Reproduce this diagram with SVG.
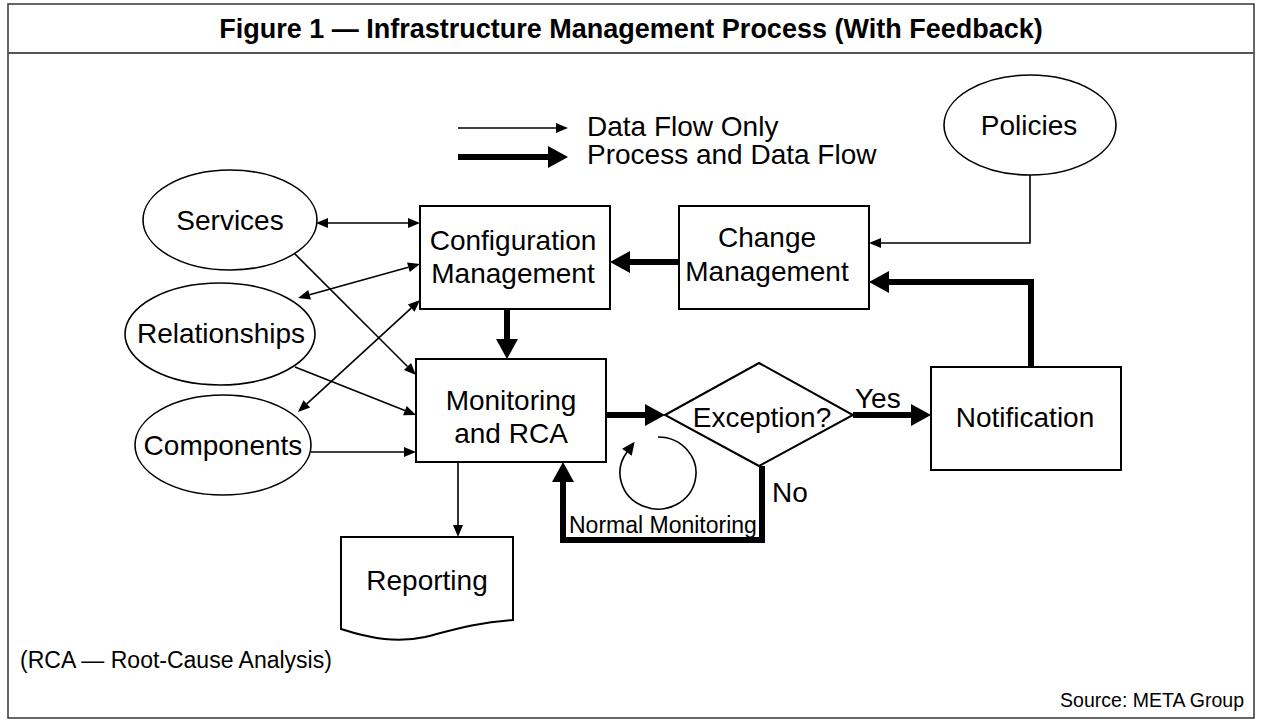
<svg xmlns="http://www.w3.org/2000/svg" width="1262" height="723" viewBox="0 0 1262 723">
  <style>
    text { font-family: "Liberation Sans", Arial, sans-serif; fill: #000; }
    .lbl { font-size: 28px; text-anchor: middle; }
    .shape { fill: #fff; stroke: #000; stroke-width: 2; }
    .oval { fill: #fff; stroke: #000; stroke-width: 1.6; }
    .thin { fill: none; stroke: #000; stroke-width: 1.6; }
    .thick { fill: none; stroke: #000; stroke-width: 6; stroke-linejoin: miter; }
  </style>
  <defs>
    <marker id="hThin" markerUnits="userSpaceOnUse" markerWidth="14" markerHeight="12" refX="0" refY="5" orient="auto" overflow="visible">
      <path d="M0,0 L12,5 L0,10 Z" fill="#000"/>
    </marker>
    <marker id="hThinStart" markerUnits="userSpaceOnUse" markerWidth="14" markerHeight="12" refX="0" refY="5" orient="auto-start-reverse" overflow="visible">
      <path d="M0,0 L12,5 L0,10 Z" fill="#000"/>
    </marker>
    <marker id="hLoop" markerUnits="userSpaceOnUse" markerWidth="14" markerHeight="12" refX="0" refY="6" orient="auto" overflow="visible">
      <path d="M0,0 L13,6 L0,12 Z" fill="#000"/>
    </marker>
    <marker id="hThick" markerUnits="userSpaceOnUse" markerWidth="22" markerHeight="24" refX="0" refY="11" orient="auto" overflow="visible">
      <path d="M0,0 L20,11 L0,22 Z" fill="#000"/>
    </marker>
  </defs>

  <!-- frame and header -->
  <rect x="8" y="4" width="1246" height="714" fill="#fff" stroke="#333" stroke-width="1.5"/>
  <line x1="8" y1="53" x2="1254" y2="53" stroke="#555" stroke-width="2"/>
  <text x="631" y="38" font-size="27" font-weight="bold" text-anchor="middle">Figure 1 — Infrastructure Management Process (With Feedback)</text>

  <!-- legend -->
  <g id="legend">
    <line x1="458" y1="128" x2="556" y2="128" class="thin" marker-end="url(#hThin)"/>
    <text x="587" y="136" font-size="28">Data Flow Only</text>
    <line x1="458" y1="157" x2="548" y2="157" class="thick" marker-end="url(#hThick)"/>
    <text x="587" y="164" font-size="28">Process and Data Flow</text>
  </g>

  <!-- connectors -->
  <g id="connectors">
    <!-- data flow only -->
    <line x1="328" y1="223" x2="408" y2="223" class="thin" marker-start="url(#hThinStart)" marker-end="url(#hThin)"/>
    <line x1="309.6" y1="294.8" x2="408.4" y2="267.2" class="thin" marker-start="url(#hThinStart)" marker-end="url(#hThin)"/>
    <line x1="306.8" y1="403.9" x2="411.2" y2="308.1" class="thin" marker-start="url(#hThinStart)" marker-end="url(#hThin)"/>
    <line x1="293" y1="252" x2="407.5" y2="366.5" class="thin" marker-end="url(#hThin)"/>
    <line x1="295" y1="367" x2="404.9" y2="410.6" class="thin" marker-end="url(#hThin)"/>
    <line x1="311" y1="452" x2="404" y2="452" class="thin" marker-end="url(#hThin)"/>
    <line x1="458" y1="462" x2="458" y2="525" class="thin" marker-end="url(#hThin)"/>
    <path d="M1030,174 V243 H881" class="thin" marker-end="url(#hThin)"/>
    <!-- normal monitoring loop -->
    <path d="M658,437 A38,36 0 1 1 626.9,452.3" class="thin" marker-end="url(#hLoop)"/>
    <!-- process and data flow -->
    <line x1="507" y1="309" x2="507" y2="339" class="thick" marker-end="url(#hThick)"/>
    <line x1="679" y1="262" x2="630" y2="262" class="thick" marker-end="url(#hThick)"/>
    <line x1="606" y1="415" x2="645" y2="415" class="thick" marker-end="url(#hThick)"/>
    <line x1="853" y1="415" x2="911" y2="415" class="thick" marker-end="url(#hThick)"/>
    <path d="M1031,367 V282 H889" class="thick" marker-end="url(#hThick)"/>
    <path d="M762,466 V540 H563 V482" class="thick" marker-end="url(#hThick)"/>
  </g>

  <!-- nodes -->
  <g id="services">
    <ellipse cx="230" cy="220" rx="87" ry="50" class="oval"/>
    <text x="230" y="230" class="lbl">Services</text>
  </g>
  <g id="relationships">
    <ellipse cx="220" cy="334" rx="95" ry="51" class="oval"/>
    <text x="221" y="343" class="lbl">Relationships</text>
  </g>
  <g id="components">
    <ellipse cx="223" cy="445" rx="88" ry="50" class="oval"/>
    <text x="223" y="455" class="lbl">Components</text>
  </g>
  <g id="policies">
    <ellipse cx="1030" cy="125" rx="86" ry="50" class="oval"/>
    <text x="1029" y="135" class="lbl">Policies</text>
  </g>
  <g id="configuration">
    <rect x="420" y="206" width="190" height="103" class="shape"/>
    <text x="513" y="250" class="lbl">Configuration</text>
    <text x="513" y="283" class="lbl">Management</text>
  </g>
  <g id="change">
    <rect x="679" y="206" width="190" height="103" class="shape"/>
    <text x="767" y="247" class="lbl">Change</text>
    <text x="767" y="281" class="lbl">Management</text>
  </g>
  <g id="monitoring">
    <rect x="416" y="359" width="190" height="103" class="shape"/>
    <text x="511" y="410" class="lbl">Monitoring</text>
    <text x="511" y="443" class="lbl">and RCA</text>
  </g>
  <g id="exception">
    <polygon points="665,415 759,363 853,415 759,466" class="shape"/>
    <text x="762" y="427" class="lbl">Exception?</text>
  </g>
  <g id="notification">
    <rect x="931" y="367" width="190" height="103" class="shape"/>
    <text x="1025" y="427" class="lbl">Notification</text>
  </g>
  <g id="reporting">
    <path d="M341,537 H513 V620 C478,622 452,630 425,637 C398,643 372,639 341,629 Z" class="shape"/>
    <text x="427" y="590" class="lbl">Reporting</text>
  </g>

  <!-- labels -->
  <text x="855" y="408" font-size="28">Yes</text>
  <text x="772" y="502" font-size="28">No</text>
  <text x="569" y="533" font-size="23">Normal Monitoring</text>
  <text x="20" y="668" font-size="23">(RCA — Root-Cause Analysis)</text>
  <text x="1244" y="707" font-size="19.5" text-anchor="end">Source: META Group</text>
</svg>
